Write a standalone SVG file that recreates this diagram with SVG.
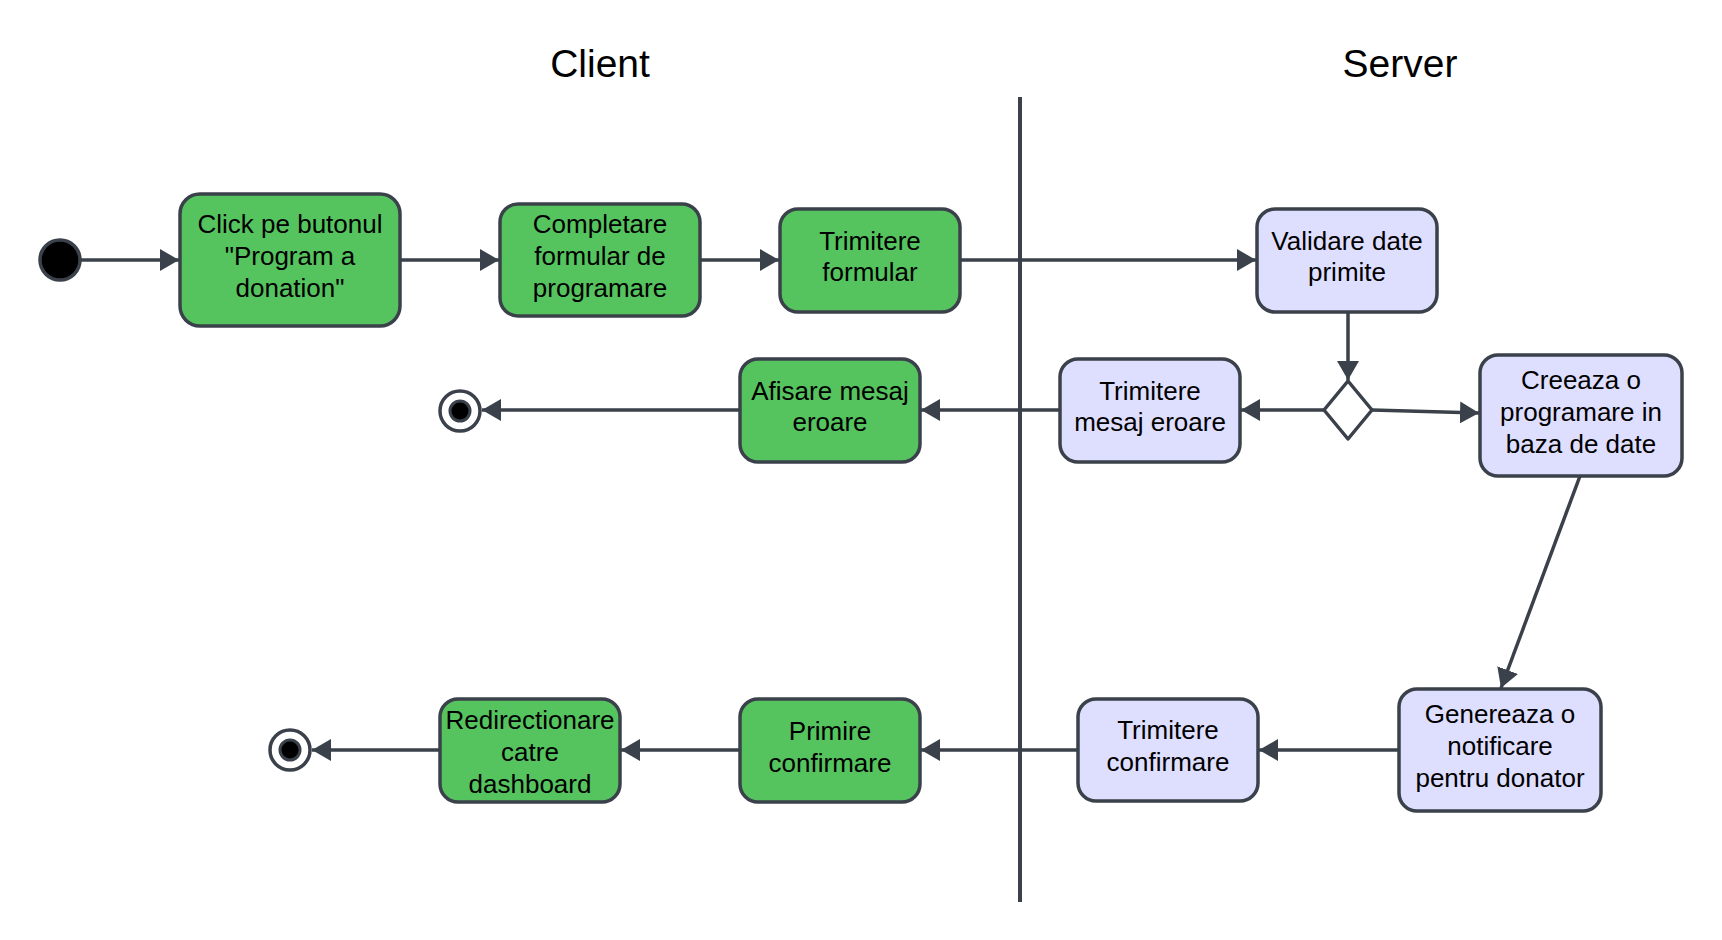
<svg xmlns="http://www.w3.org/2000/svg" width="1722" height="940" viewBox="0 0 1722 940">
<style>
.g{fill:#55c45f;stroke:#3a414a;stroke-width:3.5}
.p{fill:#dedeff;stroke:#3a414a;stroke-width:3.5}
.t{font-family:"Liberation Sans",Arial,sans-serif;font-size:26px;fill:#000;text-anchor:middle}
.h{font-family:"Liberation Sans",Arial,sans-serif;font-size:39px;fill:#000;text-anchor:middle}
.c{fill:none;stroke:#3a414a;stroke-width:3.5;marker-end:url(#ah)}
</style>
<defs>
<marker id="ah" markerUnits="userSpaceOnUse" markerWidth="20" markerHeight="24" viewBox="0 0 20 24" refX="19" refY="12" orient="auto">
<path d="M0,1 L19,12 L0,23 Z" fill="#3a414a"/>
</marker>
</defs>
<rect width="1722" height="940" fill="#fff"/>
<g id="titles">
<text class="h" x="600" y="77">Client</text>
<text class="h" x="1400" y="77">Server</text>
</g>
<g id="lane-divider">
<line x1="1020" y1="97" x2="1020" y2="902" stroke="#3a414a" stroke-width="4"/>
</g>
<g id="connectors">
<line class="c" x1="80" y1="260" x2="179" y2="260"/>
<line class="c" x1="400" y1="260" x2="499" y2="260"/>
<line class="c" x1="700" y1="260" x2="779" y2="260"/>
<line class="c" x1="960" y1="260" x2="1256" y2="260"/>
<line class="c" x1="1348" y1="312" x2="1348" y2="380"/>
<line class="c" x1="1324" y1="410" x2="1241" y2="410"/>
<line class="c" x1="1372" y1="410" x2="1479" y2="413"/>
<line class="c" x1="1060" y1="410" x2="921" y2="410"/>
<line class="c" x1="740" y1="410" x2="482" y2="410"/>
<line class="c" x1="1580" y1="476" x2="1501" y2="688"/>
<line class="c" x1="1399" y1="750" x2="1259" y2="750"/>
<line class="c" x1="1078" y1="750" x2="921" y2="750"/>
<line class="c" x1="740" y1="750" x2="621" y2="750"/>
<line class="c" x1="440" y1="750" x2="312" y2="750"/>
</g>
<g id="start">
<circle cx="60" cy="260" r="20" fill="#000" stroke="#3a414a" stroke-width="3.5"/>
</g>
<g id="click">
<rect class="g" x="180" y="194" width="220" height="132" rx="20"/>
<text class="t" x="290" y="233">Click pe butonul</text>
<text class="t" x="290" y="265">"Program a</text>
<text class="t" x="290" y="297">donation"</text>
</g>
<g id="completare">
<rect class="g" x="500" y="204" width="200" height="112" rx="18"/>
<text class="t" x="600" y="233">Completare</text>
<text class="t" x="600" y="265">formular de</text>
<text class="t" x="600" y="297">programare</text>
</g>
<g id="trimitere-formular">
<rect class="g" x="780" y="209" width="180" height="103" rx="18"/>
<text class="t" x="870" y="250">Trimitere</text>
<text class="t" x="870" y="281">formular</text>
</g>
<g id="validare">
<rect class="p" x="1257" y="209" width="180" height="103" rx="18"/>
<text class="t" x="1347" y="250">Validare date</text>
<text class="t" x="1347" y="281">primite</text>
</g>
<g id="decision">
<path d="M1348,381 L1372,410 L1348,439 L1324,410 Z" fill="#fff" stroke="#3a414a" stroke-width="3.5" stroke-linejoin="round"/>
</g>
<g id="trimitere-eroare">
<rect class="p" x="1060" y="359" width="180" height="103" rx="18"/>
<text class="t" x="1150" y="400">Trimitere</text>
<text class="t" x="1150" y="431">mesaj eroare</text>
</g>
<g id="creeaza">
<rect class="p" x="1480" y="355" width="202" height="121" rx="18"/>
<text class="t" x="1581" y="389">Creeaza o</text>
<text class="t" x="1581" y="421">programare in</text>
<text class="t" x="1581" y="453">baza de date</text>
</g>
<g id="afisare">
<rect class="g" x="740" y="359" width="180" height="103" rx="18"/>
<text class="t" x="830" y="400">Afisare mesaj</text>
<text class="t" x="830" y="431">eroare</text>
</g>
<g id="end1">
<circle cx="460" cy="411" r="20" fill="#fff" stroke="#3a414a" stroke-width="3.5"/>
<circle cx="460" cy="411" r="10" fill="#000" stroke="#3a414a" stroke-width="3"/>
</g>
<g id="genereaza">
<rect class="p" x="1399" y="689" width="202" height="122" rx="18"/>
<text class="t" x="1500" y="723">Genereaza o</text>
<text class="t" x="1500" y="755">notificare</text>
<text class="t" x="1500" y="787">pentru donator</text>
</g>
<g id="trimitere-confirmare">
<rect class="p" x="1078" y="699" width="180" height="102" rx="18"/>
<text class="t" x="1168" y="739">Trimitere</text>
<text class="t" x="1168" y="771">confirmare</text>
</g>
<g id="primire">
<rect class="g" x="740" y="699" width="180" height="103" rx="18"/>
<text class="t" x="830" y="740">Primire</text>
<text class="t" x="830" y="772">confirmare</text>
</g>
<g id="redirectionare">
<rect class="g" x="440" y="699" width="180" height="103" rx="18"/>
<text class="t" x="530" y="729">Redirectionare</text>
<text class="t" x="530" y="761">catre</text>
<text class="t" x="530" y="793">dashboard</text>
</g>
<g id="end2">
<circle cx="290" cy="750" r="20" fill="#fff" stroke="#3a414a" stroke-width="3.5"/>
<circle cx="290" cy="750" r="10" fill="#000" stroke="#3a414a" stroke-width="3"/>
</g>
</svg>
